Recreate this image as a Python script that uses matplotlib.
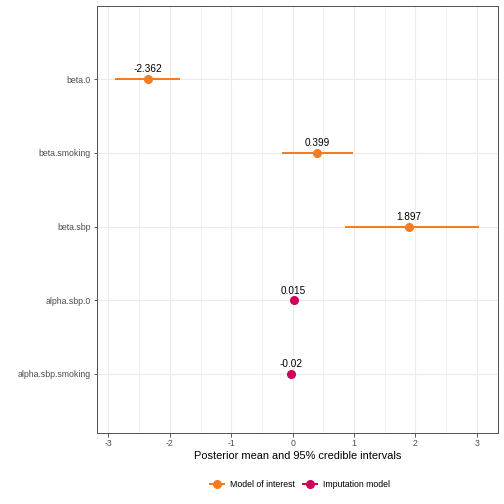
import matplotlib.pyplot as plt
from matplotlib.lines import Line2D

plt.rcParams["font.family"] = ["Liberation Sans", "DejaVu Sans"]
plt.rcParams["axes.unicode_minus"] = False

params = ["beta.0", "beta.smoking", "beta.sbp", "alpha.sbp.0", "alpha.sbp.smoking"]
means = [-2.362, 0.399, 1.897, 0.015, -0.02]
lower = [-2.89, -0.18, 0.85, 0.015, -0.02]
upper = [-1.84, 0.98, 3.04, 0.015, -0.02]
groups = ["Model of interest", "Model of interest", "Model of interest",
          "Imputation model", "Imputation model"]
labels = ["-2.362", "0.399", "1.897", "0.015", "-0.02"]

colors = {"Model of interest": "#F57C20", "Imputation model": "#CE0058"}

fig = plt.figure(figsize=(7, 7), dpi=72)
ax = fig.add_axes([0.192, 0.141, 0.7955, 0.848])

n = len(params)
ypos = list(range(n - 1, -1, -1))

for y, m, lo, hi, g, lab in zip(ypos, means, lower, upper, groups, labels):
    c = colors[g]
    ax.plot([lo, hi], [y, y], color=c, lw=2.0, solid_capstyle="butt", zorder=3)
    ax.plot(m, y, "o", color=c, markersize=8, zorder=4)
    ax.text(m, y + 0.065, lab, ha="center", va="bottom", fontsize=10, color="black", zorder=5)

ax.set_yticks(ypos)
ax.set_yticklabels(params)
ax.set_ylim(-0.8, n - 1 + 1.0)
ax.set_xlim(-3.19, 3.34)
ax.set_xticks([-3, -2, -1, 0, 1, 2, 3])
ax.set_xticks([-2.5, -1.5, -0.5, 0.5, 1.5, 2.5], minor=True)
ax.tick_params(axis="y", which="minor", left=False)

ax.grid(True, which="major", color="#EBEBEB", lw=1.1, zorder=0)
ax.grid(True, which="minor", axis="x", color="#EBEBEB", lw=0.6, zorder=0)
ax.set_axisbelow(True)

ax.tick_params(axis="both", which="major", length=3.5, width=0.8, color="#333333",
               labelsize=8.8, labelcolor="#4D4D4D", pad=2.5)
ax.tick_params(axis="x", which="minor", length=0)
for s in ax.spines.values():
    s.set_color("#555555")
    s.set_linewidth(1.0)

ax.set_xlabel("Posterior mean and 95% credible intervals", fontsize=11, labelpad=3)

handles = [Line2D([0], [0], color=colors[g], lw=2.0, marker="o", markersize=8)
           for g in ["Model of interest", "Imputation model"]]
fig.legend(handles, ["Model of interest", "Imputation model"], loc="center",
           bbox_to_anchor=(0.595, 0.038), ncol=2, frameon=False, fontsize=8.8,
           handlelength=1.6, columnspacing=1.0, handletextpad=0.6)

fig.savefig("out.png", dpi=72)
